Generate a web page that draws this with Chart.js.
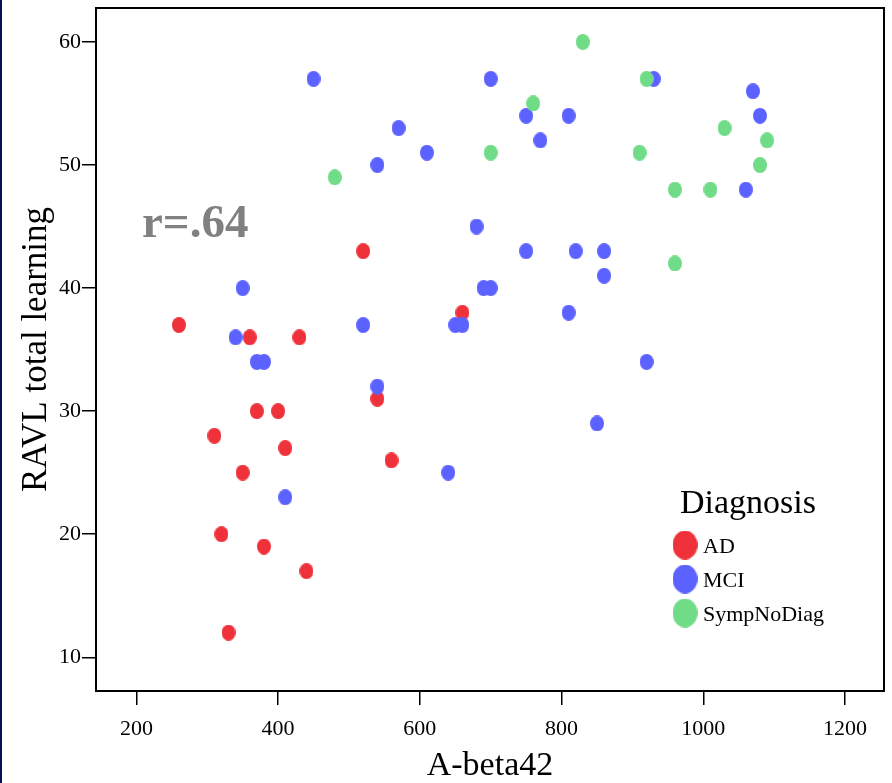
<!DOCTYPE html>
<html>
<head>
<meta charset="utf-8">
<title>RAVL total learning vs A-beta42</title>
<script src="https://cdn.jsdelivr.net/npm/chart.js@4.4.0/dist/chart.umd.min.js"></script>
<style>
  html, body { margin: 0; padding: 0; background: #fff; }
  #box { position: relative; width: 892px; height: 783px; }
  #box::before { content: ""; position: absolute; left: 0; top: 0; width: 2px; height: 783px; background: #0b0b5c; }
  canvas { display: block; }
</style>
</head>
<body>
<div id="box"><canvas id="chart" width="892" height="783"></canvas></div>
<script>
// data
const diagnoses = ["AD", "MCI", "SympNoDiag"];

const adX = [260, 360, 430, 520, 540, 370, 400, 310, 410, 350, 560, 320, 380, 440, 330, 660];
const adY = [37, 36, 36, 43, 31, 30, 30, 28, 27, 25, 26, 20, 19, 17, 12, 38];

const mciX = [450, 570, 610, 540, 350, 340, 370, 380, 520, 540, 410, 640, 700, 930, 1070, 750,
              810, 1080, 770, 1060, 680, 750, 820, 860, 860, 690, 700, 810, 650, 660, 920, 850];
const mciY = [57, 53, 51, 50, 40, 36, 34, 34, 37, 32, 23, 25, 57, 57, 56, 54,
              54, 54, 52, 48, 45, 43, 43, 43, 41, 40, 40, 38, 37, 37, 34, 29];

const sympX = [480, 830, 920, 760, 1030, 1090, 700, 910, 1080, 960, 1010, 960];
const sympY = [49, 60, 57, 55, 53, 52, 51, 51, 50, 48, 48, 42];

const xTicks = [200, 400, 600, 800, 1000, 1200];
const yTicks = [10, 20, 30, 40, 50, 60];
const corrLabel = "r=.64";

const colors = ["rgb(239,50,58)", "rgb(92,98,255)", "rgb(113,220,136)"];
const serif = "Liberation Serif";

function toPoints(xs, ys) {
  return xs.map((x, i) => ({ x: x, y: ys[i] }));
}

// little ellipse used as the marker (the original dots are a bit taller than wide)
function dot(color, w, h) {
  const c = document.createElement("canvas");
  c.width = w;
  c.height = h;
  const g = c.getContext("2d");
  g.fillStyle = color;
  g.beginPath();
  g.ellipse(w / 2, h / 2, w / 2, h / 2, 0, 0, Math.PI * 2);
  g.fill();
  return c;
}

const series = [toPoints(adX, adY), toPoints(mciX, mciY), toPoints(sympX, sympY)];

const datasets = diagnoses.map((name, i) => ({
  label: name,
  data: series[i],
  backgroundColor: colors[i],
  borderWidth: 0,
  pointStyle: dot(colors[i], 14, 16),
  legendDot: dot(colors[i], 25, 29),
  radius: 7,
  hoverRadius: 7,
  order: 2 - i
}));

// box round the plot + the r value + legend inside the plot
const extras = {
  id: "extras",
  afterDraw(chart) {
    const ctx = chart.ctx;
    const a = chart.chartArea;
    ctx.save();
    ctx.strokeStyle = "#000";
    ctx.lineWidth = 2;
    ctx.strokeRect(a.left, a.top, a.right - a.left, a.bottom - a.top);

    ctx.fillStyle = "#808080";
    ctx.font = "bold 47px '" + serif + "'";
    ctx.textBaseline = "alphabetic";
    ctx.fillText(corrLabel, a.left + 46, a.top + 229);

    const x0 = a.right - 204;
    ctx.fillStyle = "#000";
    ctx.font = "34px '" + serif + "'";
    ctx.fillText("Diagnosis", x0, a.bottom - 178);
    ctx.font = "22px '" + serif + "'";
    chart.data.datasets.forEach((ds, i) => {
      const cy = a.bottom - 146 + i * 34;
      ctx.drawImage(ds.legendDot, x0 + 5 - 12.5, cy - 14.5);
      ctx.fillText(ds.label, x0 + 23, cy + 8);
    });
    ctx.restore();
  }
};

new Chart(document.getElementById("chart"), {
  type: "scatter",
  data: { datasets: datasets },
  plugins: [extras],
  options: {
    responsive: false,
    animation: false,
    events: [],
    devicePixelRatio: 1,
    layout: { padding: { top: 8, right: 8, left: 0, bottom: 0 } },
    plugins: {
      legend: { display: false },
      tooltip: { enabled: false }
    },
    scales: {
      x: {
        type: "linear",
        min: 143,
        max: 1255,
        afterBuildTicks: s => { s.ticks = xTicks.map(v => ({ value: v })); },
        afterFit: s => { s.height = 92; s.paddingLeft = 0; s.paddingRight = 0; },
        grid: { drawOnChartArea: false, drawTicks: true, tickLength: 14, color: "#000", lineWidth: 1.5 },
        border: { display: true, color: "#000", width: 2 },
        ticks: {
          color: "#000", padding: 11, maxRotation: 0, autoSkip: false,
          font: { family: serif, size: 22 },
          callback: v => String(v)
        },
        title: {
          display: true,
          text: "A-beta42",
          color: "#000",
          font: { family: serif, size: 34, lineHeight: 1 },
          padding: { top: 0, bottom: 0 }
        }
      },
      y: {
        type: "linear",
        min: 7.26,
        max: 62.76,
        afterBuildTicks: s => { s.ticks = yTicks.map(v => ({ value: v })); },
        afterFit: s => { s.width = 96; s.paddingTop = 0; s.paddingBottom = 0; },
        grid: { drawOnChartArea: false, drawTicks: true, tickLength: 14, color: "#000", lineWidth: 1.5 },
        border: { display: true, color: "#000", width: 2 },
        ticks: {
          color: "#000", padding: 1, autoSkip: false,
          font: { family: serif, size: 22 },
          callback: v => String(v)
        },
        title: {
          display: true,
          text: "RAVL total learning",
          color: "#000",
          font: { family: serif, size: 35, lineHeight: 1 },
          padding: { top: 19, bottom: 0 }
        }
      }
    }
  }
});
</script>
</body>
</html>
